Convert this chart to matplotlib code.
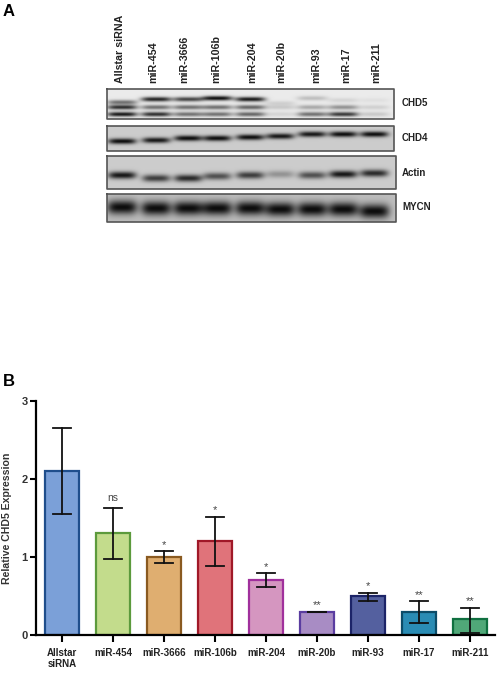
# Western blot panels (A) and CHD5 expression bars (B)

import numpy as np
import matplotlib
matplotlib.use("Agg")
import matplotlib.pyplot as plt

plt.rcParams['font.family'] = ['Liberation Sans', 'DejaVu Sans']

# ------------------------------ chart data ------------------------------ #

bar_names = ["Allstar\nsiRNA", "miR-454", "miR-3666", "miR-106b", "miR-204",
             "miR-20b", "miR-93", "miR-17", "miR-211"]
bar_values = [2.1, 1.3, 1.0, 1.2, 0.7, 0.3, 0.5, 0.3, 0.2]
err_top = [2.65, 1.62, 1.07, 1.51, 0.79, 0.30, 0.54, 0.43, 0.35]
err_bottom = [1.55, 0.97, 0.92, 0.88, 0.61, 0.30, 0.44, 0.16, 0.03]
stars = ["", "ns", "*", "*", "*", "**", "*", "**", "**"]
fill_colors = ["#7BA0D8", "#C3DC8C", "#DFAE70", "#E0737A", "#D596C0",
               "#A88CC4", "#54609F", "#2A8CB4", "#50A878"]
edge_colors = ["#1F4E8C", "#5C9A3C", "#8A5A20", "#A01828", "#A0309C",
               "#5A3CA0", "#1C2468", "#0C4C68", "#107040"]

# ------------------------------ blot data ------------------------------ #

lane_names = ["Allstar siRNA", "miR-454", "miR-3666", "miR-106b", "miR-204",
              "miR-20b", "miR-93", "miR-17", "miR-211"]
lane_label_x = [120, 153, 184, 216, 252, 281, 316, 346, 376]
lane_x = [122, 156, 188, 217, 250, 280, 312, 343, 374]

chd5_top = [0.55, 0.90, 0.75, 1.00, 0.95, 0.12, 0.20, 0.10, 0.05]
chd5_mid = [0.85, 0.55, 0.55, 0.55, 0.60, 0.15, 0.30, 0.40, 0.12]
chd5_low = [0.95, 0.85, 0.55, 0.55, 0.60, 0.10, 0.55, 0.80, 0.15]
chd4_band = [1.0, 0.95, 1.0, 1.0, 1.0, 0.95, 0.95, 1.0, 1.0]
actin_band = [0.95, 0.75, 0.85, 0.65, 0.75, 0.30, 0.65, 0.95, 0.85]
mycn_band = [1.0, 1.0, 1.0, 1.0, 1.0, 1.0, 1.0, 1.0, 1.0]

chd5_top_y = [102, 99, 99, 98, 99, 103, 98, 100, 100]
chd4_y = [141, 140, 138, 138, 137, 136, 134, 134, 134]
actin_y = [175, 178, 178, 176, 175, 174, 175, 174, 173]
mycn_y = [207, 208, 208, 208, 208, 209, 209, 209, 211]


def draw_panel(ax, box, background, rows, half_w, half_h):
	x0, x1, y0, y1 = box
	xs, ys = np.meshgrid(np.arange(x0, x1, 0.5), np.arange(y0, y1, 0.5))
	dark = np.zeros(xs.shape)
	for y_list, strengths in rows:
		for x_pos, y_pos, s in zip(lane_x, y_list, strengths):
			dark += s * np.exp(-((xs - x_pos) / half_w) ** 4 - ((ys - y_pos) / half_h) ** 2)
	img = background * (1 - np.clip(dark, 0, 1)) + 0.05 * np.clip(dark, 0, 1)
	ax.imshow(img, cmap="gray", vmin=0, vmax=1, extent=(x0, x1, y1, y0),
	          aspect="auto", interpolation="bilinear", zorder=1)
	ax.plot([x0, x1, x1, x0, x0], [y0, y0, y1, y1, y0], color="#555555", lw=1.2, zorder=2)


fig = plt.figure(figsize=(5, 6.75), dpi=100, facecolor="white")

# ------------------------------ panel A ------------------------------ #

top = fig.add_axes([0, 0, 1, 1])
top.set_xlim(0, 500)
top.set_ylim(675, 0)
top.axis("off")

draw_panel(top, (107, 394, 89, 119), 0.92,
           [(chd5_top_y, chd5_top), ([107] * 9, chd5_mid), ([114] * 9, chd5_low)], 15, 2.3)
draw_panel(top, (107, 394, 126, 151), 0.80, [(chd4_y, chd4_band)], 14, 2.8)
draw_panel(top, (107, 396, 156, 189), 0.80, [(actin_y, actin_band)], 14, 3.6)
draw_panel(top, (107, 396, 194, 222), 0.74, [(mycn_y, mycn_band)], 15, 7.0)

for x, name in zip(lane_label_x, lane_names):
	top.text(x, 83, name, rotation=90, ha="center", va="bottom",
	         fontsize=7.7, fontweight="bold", color="#222222")

top.text(402, 103, "CHD5", ha="left", va="center", fontsize=7, fontweight="bold", color="#222222")
top.text(402, 138, "CHD4", ha="left", va="center", fontsize=7, fontweight="bold", color="#222222")
top.text(402, 173, "Actin", ha="left", va="center", fontsize=7, fontweight="bold", color="#222222")
top.text(402, 207, "MYCN", ha="left", va="center", fontsize=7, fontweight="bold", color="#222222")

top.text(3, 11, "A", ha="left", va="center", fontsize=12, fontweight="bold")
top.text(3, 381, "B", ha="left", va="center", fontsize=12, fontweight="bold")

# ------------------------------ panel B ------------------------------ #

ax = fig.add_axes([36 / 500, 1 - 635 / 675, (495 - 36) / 500, (635 - 400.7) / 675])
ax.patch.set_alpha(0)
pos = np.arange(len(bar_values))
ax.bar(pos, bar_values, width=0.67, color=fill_colors, edgecolor=edge_colors, linewidth=1.6)

for i in pos:
	ax.plot([i, i], [err_bottom[i], err_top[i]], color="#111111", lw=1.3)
	ax.plot([i - 0.17, i + 0.17], [err_top[i], err_top[i]], color="#111111", lw=1.3)
	ax.plot([i - 0.17, i + 0.17], [err_bottom[i], err_bottom[i]], color="#111111", lw=1.3)
	if stars[i] == "ns":
		ax.text(i, err_top[i] + 0.07, stars[i], ha="center", va="bottom", fontsize=7.5, color="#444444")
	elif stars[i]:
		ax.text(i, err_top[i] + 0.02, stars[i], ha="center", va="bottom", fontsize=8, color="#444444")

ax.set_xlim(-0.51, 8.49)
ax.set_ylim(0, 3)
ax.set_yticks([0, 1, 2, 3])
ax.set_xticks(pos)
ax.set_xticklabels(bar_names, fontsize=7, fontweight="bold", color="#222222", linespacing=1.2)
ax.tick_params(axis="y", labelsize=8, width=1.5, length=4, pad=2, labelcolor="#333333")
ax.tick_params(axis="x", width=1.5, length=5, pad=4)
for label in ax.get_yticklabels():
	label.set_fontweight("bold")
ax.set_ylabel("Relative CHD5 Expression", fontsize=7.6, fontweight="bold", color="#333333", labelpad=7)
ax.spines["top"].set_visible(False)
ax.spines["right"].set_visible(False)
ax.spines["left"].set_linewidth(1.6)
ax.spines["bottom"].set_linewidth(1.6)

fig.savefig("out.png", dpi=100)
